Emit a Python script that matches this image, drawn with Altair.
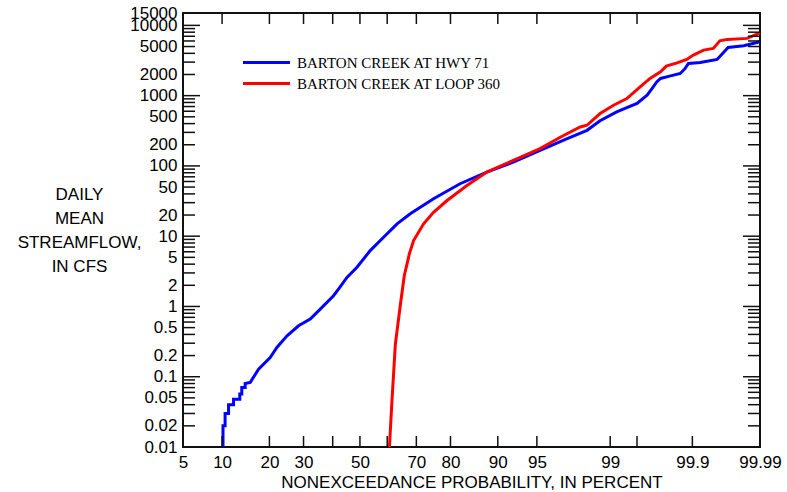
import altair as alt
import pandas as pd
from statistics import NormalDist

# ---------------- data ----------------
SERIES = ["BARTON CREEK AT HWY 71", "BARTON CREEK AT LOOP 360"]
COLORS = ["#0000ff", "#ff0000"]

blue_pct = [10.15, 10.15, 10.5, 10.5, 11.1, 11.1, 12.0, 12.0, 13.2, 13.2,
            13.6, 13.6, 14.3, 14.3, 15.4, 17.3, 20.2, 22.0, 24.9, 28.4,
            32.2, 35.6, 40.3, 42.1, 45.2, 48.9, 53.8, 58.7, 63.5, 68.0,
            75.3, 82.4, 88.1, 92.3, 95.3, 97.3, 98.26, 98.72, 99.15, 99.50,
            99.62, 99.67, 99.71, 99.74, 99.80, 99.855, 99.875, 99.887, 99.922, 99.955,
            99.969, 99.982, 99.99]
blue_cfs = [0.01, 0.02, 0.02, 0.03, 0.03, 0.04, 0.04, 0.048, 0.048, 0.057,
            0.057, 0.07, 0.07, 0.08, 0.083, 0.128, 0.187, 0.261, 0.383, 0.531,
            0.662, 0.918, 1.42, 1.77, 2.59, 3.61, 6.24, 9.66, 15.0, 20.8,
            34.1, 55.8, 81.7, 113, 167, 245, 321, 440, 586, 773,
            1014, 1265, 1570, 1755, 1893, 2070, 2440, 2870, 2970, 3280,
            4860, 5130, 5840]

red_pct = [60.8, 61.7, 62.9, 64.5, 66.0, 67.7, 69.1, 72.3, 75.3, 79.1,
           84.0, 88.1, 92.3, 95.3, 96.9, 97.97, 98.26, 98.72, 99.08, 99.345,
           99.54, 99.65, 99.74, 99.78, 99.84, 99.881, 99.903, 99.930, 99.949, 99.959,
           99.968, 99.984, 99.99]
red_cfs = [0.01, 0.045, 0.29, 0.95, 2.75, 5.6, 8.67, 15.0, 21.9, 32.2,
           52.7, 81.7, 120, 176, 258, 358, 379, 556, 731, 910,
           1333, 1755, 2180, 2630, 2930, 3280, 3775, 4450, 4700, 6040,
           6320, 6530, 7850]

x_label_pcts = [5, 10, 20, 30, 50, 70, 80, 90, 95, 99, 99.9, 99.99]
x_tick_pcts = [10, 20, 30, 40, 50, 60, 70, 80, 90, 95, 99, 99.5, 99.9]
y_label_vals = [0.01, 0.02, 0.05, 0.1, 0.2, 0.5, 1, 2, 5, 10, 20, 50,
                100, 200, 500, 1000, 2000, 5000, 10000, 15000]
y_major_ticks = [0.01, 0.1, 1, 10, 100, 1000, 10000]
y_minor_ticks = [round(m * 10.0 ** e, 6) for e in range(-2, 4) for m in range(2, 10)]

# ---------------- normal-probability scale transform ----------------
nd = NormalDist()


def zq(p):
    return nd.inv_cdf(p / 100.0)


rows = []
for i, (p, q) in enumerate(zip(blue_pct, blue_cfs)):
    rows.append({"series": SERIES[0], "p": p, "q": q, "i": i})
for i, (p, q) in enumerate(zip(red_pct, red_cfs)):
    rows.append({"series": SERIES[1], "p": p, "q": q, "i": i})
df = pd.DataFrame(rows)
df["z"] = df["p"].map(zq)

W, H = 577, 434
FONT = "Liberation Sans"
TICK = "#111111"

xscale = alt.Scale(domain=[zq(5), zq(99.99)], nice=False, zero=False)
yscale = alt.Scale(type="log", domain=[0.01, 15000], nice=False)

lines = alt.Chart(df).mark_line(strokeWidth=3).encode(
    x=alt.X("z:Q", scale=xscale, axis=alt.Axis(
        values=[zq(p) for p in x_label_pcts],
        labelExpr="format(cumulativeNormal(datum.value) * 100, '.4~r')",
        title="NONEXCEEDANCE PROBABILITY, IN PERCENT",
        titleFont=FONT, titleFontSize=17, titleFontWeight="normal", titleColor="black",
        titleY=40, titleBaseline="alphabetic",
        ticks=False, domain=False, grid=False, labelFlush=False, labelOverlap=False,
        labelPadding=7, labelFont=FONT, labelFontSize=17, labelColor="black")),
    y=alt.Y("q:Q", scale=yscale, axis=alt.Axis(
        values=y_label_vals, format="~g",
        title=["DAILY", "MEAN", "STREAMFLOW,", "IN CFS"],
        titleAngle=0, titleAlign="center", titleX=-104, titleY=186,
        titleBaseline="alphabetic", titleLineHeight=24,
        titleFont=FONT, titleFontSize=17, titleFontWeight="normal", titleColor="black",
        ticks=False, domain=False, grid=False, labelOverlap=False, labelFlush=False,
        labelPadding=6, labelFont=FONT, labelFontSize=17, labelColor="black")),
    color=alt.Color("series:N", scale=alt.Scale(domain=SERIES, range=COLORS),
                    legend=alt.Legend(title=None, orient="none", legendX=76, legendY=42,
                                      symbolType="M-4.7,0L4.7,0", symbolSize=100,
                                      symbolStrokeWidth=3, labelFont="Liberation Serif",
                                      labelFontSize=15, labelColor="black", labelLimit=0,
                                      labelOffset=23, rowPadding=5, direction="vertical")),
    order="i:Q",
)


def yticks(vals, x0, x1):
    return alt.Chart(pd.DataFrame({"q": vals})).mark_rule(
        color=TICK, strokeWidth=1.5).encode(
        y=alt.Y("q:Q", scale=yscale),
        x=alt.value(x0), x2=alt.value(x1))


def xticks(vals, y0, y1):
    return alt.Chart(pd.DataFrame({"z": [zq(p) for p in vals]})).mark_rule(
        color=TICK, strokeWidth=1.5).encode(
        x=alt.X("z:Q", scale=xscale),
        y=alt.value(y0), y2=alt.value(y1))


chart = alt.layer(
    lines,
    yticks(y_major_ticks, 0, 17),
    yticks(y_minor_ticks, 0, 12),
    yticks(y_major_ticks, W, W - 17),
    yticks(y_minor_ticks, W, W - 12),
    xticks(x_tick_pcts, H, H - 11),
    xticks(x_tick_pcts, 0, 11),
).properties(
    width=W, height=H,
    padding={"left": 183, "top": 13, "right": 787 - 183 - W, "bottom": 492 - 13 - H},
    autosize=alt.AutoSizeParams(type="none"),
    background="white",
).configure_view(stroke=TICK, strokeWidth=2)

chart.save("out.html", embed_options={"renderer": "svg", "actions": False})
